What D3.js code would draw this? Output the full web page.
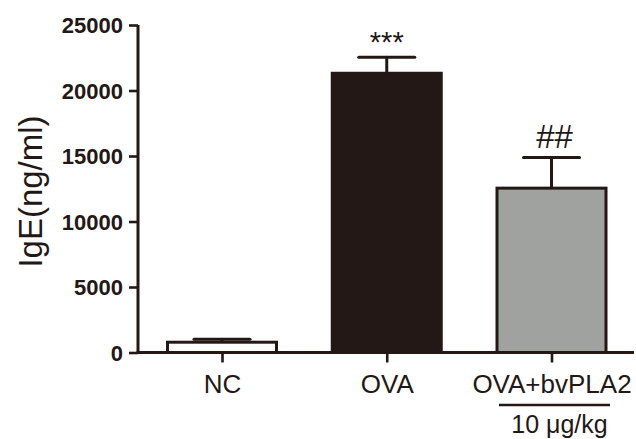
<!DOCTYPE html>
<html>
<head>
<meta charset="utf-8">
<script src="https://cdn.jsdelivr.net/npm/d3@7"></script>
<style>
  body { margin: 0; background: #fff; }
  svg { display: block; font-family: Arial, "Liberation Sans", sans-serif; }
</style>
</head>
<body>
<svg id="chart" width="636" height="439"></svg>
<script>
// data
const groups = ["NC", "OVA", "OVA+bvPLA2"];
const means = [900, 21430, 12660];
const errs = [110, 1100, 2220];
const marks = ["", "***", "##"];
const yTicks = [0, 5000, 10000, 15000, 20000, 25000];
const doseLabel = "10 \u03bcg/kg";

const ink = "#231815";
const fills = ["#ffffff", "#231815", "#a0a2a0"];

const svg = d3.select("#chart");
const axisX = 138, baseY = 352.5, axisEnd = 634;
const barW = 112;

const y = d3.scaleLinear().domain([0, 25000]).range([baseY, 25]);
const x = d3.scalePoint().domain(groups).range([222, 551.5]);

// y axis
const yAxis = svg.append("g")
    .attr("transform", `translate(${axisX},0)`)
    .call(d3.axisLeft(y).tickValues(yTicks).tickSize(9).tickPadding(6).tickFormat(d3.format("d")));
yAxis.select(".domain").attr("stroke", ink).attr("stroke-width", 3).attr("d", `M0,${y(25000)}V${baseY}`);
yAxis.selectAll(".tick line").attr("stroke", ink).attr("stroke-width", 2.6);
yAxis.selectAll(".tick text")
    .attr("fill", ink)
    .attr("font-size", 22)
    .attr("font-weight", "bold")
    .attr("font-family", "Arial, 'Liberation Sans', sans-serif")
    .attr("dy", "0.36em");

// bars
const bars = svg.append("g");
bars.selectAll("rect").data(groups).join("rect")
    .attr("x", d => x(d) - barW / 2 + 1.5)
    .attr("y", (d, i) => y(means[i]) + 1.5)
    .attr("width", barW - 3)
    .attr("height", (d, i) => baseY - y(means[i]) - 1.5)
    .attr("fill", (d, i) => fills[i])
    .attr("stroke", ink)
    .attr("stroke-width", 3);

// error bars (upper only)
const eb = svg.append("g").attr("stroke", ink).attr("stroke-width", 3).attr("stroke-linecap", "round");
eb.selectAll("line.stem").data(groups).join("line")
    .attr("class", "stem")
    .attr("x1", d => x(d)).attr("x2", d => x(d))
    .attr("y1", (d, i) => y(means[i]))
    .attr("y2", (d, i) => y(means[i] + errs[i]));
eb.selectAll("line.cap").data(groups).join("line")
    .attr("class", "cap")
    .attr("x1", d => x(d) - 28).attr("x2", d => x(d) + 28)
    .attr("y1", (d, i) => y(means[i] + errs[i]))
    .attr("y2", (d, i) => y(means[i] + errs[i]));

// x axis
const xAxis = svg.append("g")
    .attr("transform", `translate(0,${baseY})`)
    .call(d3.axisBottom(x).tickSize(10).tickPadding(7));
xAxis.select(".domain").attr("stroke", ink).attr("stroke-width", 3).attr("d", `M${axisX - 1.5},0H${axisEnd}`);
xAxis.selectAll(".tick line").attr("stroke", ink).attr("stroke-width", 2.6);
xAxis.selectAll(".tick text")
    .attr("fill", ink)
    .attr("font-size", 26)
    .attr("font-family", "Arial, 'Liberation Sans', sans-serif")
    .attr("dy", "0.92em");

// significance marks
svg.append("g").selectAll("text").data(groups).join("text")
    .attr("x", (d, i) => x(d) + (marks[i] === "##" ? 3 : 0))
    .attr("y", (d, i) => y(means[i] + errs[i]) - (marks[i] === "##" ? 10 : 5))
    .attr("text-anchor", "middle")
    .attr("fill", ink)
    .attr("font-size", (d, i) => marks[i] === "##" ? 33 : 29)
    .text((d, i) => marks[i]);

// dose bracket under third group
svg.append("line")
    .attr("x1", 499).attr("x2", 610)
    .attr("y1", 405).attr("y2", 405)
    .attr("stroke", ink).attr("stroke-width", 2.6);
svg.append("text")
    .attr("x", 559.5).attr("y", 433)
    .attr("text-anchor", "middle")
    .attr("fill", ink)
    .attr("font-size", 25)
    .text(doseLabel);

// y axis title
svg.append("text")
    .attr("transform", "translate(42,191.5) rotate(-90)")
    .attr("text-anchor", "middle")
    .attr("fill", ink)
    .attr("font-size", 33)
    .text("IgE(ng/ml)");
</script>
</body>
</html>
